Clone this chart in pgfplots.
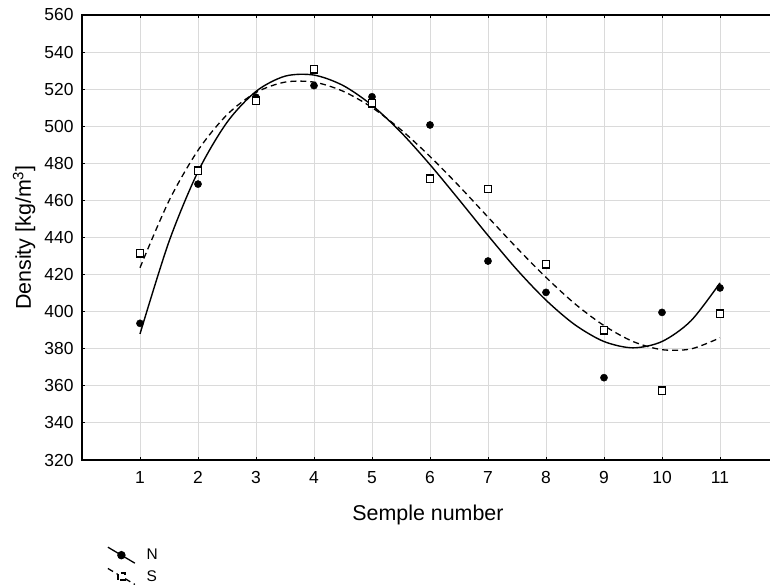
\documentclass[border=0pt]{standalone}
\usepackage{fontspec}
\setmainfont{Liberation Sans}
\usepackage{pgfplots}
\pgfplotsset{compat=1.18}
\definecolor{gridgray}{RGB}{218,218,218}
\begin{document}
\begin{tikzpicture}
\begin{axis}[
  at={(0,0)}, anchor=south west,
  scale only axis, width=696bp, height=445bp,
  xmin=0, xmax=12, ymin=320, ymax=560,
  xtick={1,...,11}, ytick={320,340,...,560},
  grid=major, major grid style={draw=gridgray, line width=0.9bp},
  axis line style={line width=1.3bp, black},
  tick style={black, line width=1bp}, major tick length=3bp,
  tick align=inside,
  /pgf/number format/assume math mode=true,
  tick label style={font=\fontsize{17.5}{17.5}\selectfont},
  xticklabel style={yshift=-8bp},
  yticklabel style={xshift=-5bp},
  xlabel={Semple number}, ylabel={Density [kg/m\textsuperscript{3}]},
  label style={font=\fontsize{21.5}{21.5}\selectfont},
  xlabel style={at={(axis description cs:0.497,-0.123)}, anchor=center},
  ylabel style={at={(axis description cs:-0.083,0.5)}, anchor=center},
  legend style={at={(axis description cs:0.036,-0.194)}, anchor=north west,
    draw=none, fill=none, inner sep=0pt, row sep=4bp,
    cells={anchor=west},
    /tikz/every odd column/.append style={column sep=9bp}},
]
% fitted curves
\addplot[black, line width=1.4bp, smooth,
  legend image code/.code={\draw[black, line width=1.3bp] (0bp,8bp) -- (27bp,-8bp); \fill[black] (13.5bp,0bp) circle (3.5bp);}]
  coordinates {
(1,388.0)(1.5,437.8)(2,475.5)(2.5,502.1)(3,518.8)(3.5,527.0)(4,527.6)(4.5,522.0)(5,511.3)(5.5,496.7)(6,479.3)
(6.5,460.4)(7,441.1)(7.5,422.6)(8,406.2)(8.5,392.9)(9,383.9)(9.5,380.5)(10,383.9)(10.5,395.1)(11,415.5)};
\addlegendentry{\fontsize{15.5}{15.5}\selectfont N}
\addplot[black, line width=1.3bp, dashed, dash pattern=on 6bp off 4bp, smooth,
  legend image code/.code={\draw[black, line width=1.3bp, dash pattern=on 6bp off 4bp] (0bp,8bp) -- (27bp,-8bp); \draw[black, fill=white, line width=1.2bp] (10bp,-3.5bp) rectangle (17bp,3.5bp);}]
  coordinates {
(1,423.7)(1.5,459.8)(2,487.0)(2.5,506.2)(3,518.2)(3.5,523.8)(4,523.8)(4.5,518.9)(5,510.1)(5.5,498.1)(6,483.7)
(6.5,467.8)(7,451.0)(7.5,434.3)(8,418.5)(8.5,404.2)(9,392.5)(9.5,383.9)(10,379.5)(10.5,379.9)(11,385.9)};
\addlegendentry{\fontsize{15.5}{15.5}\selectfont S}
% N data
\addplot[only marks, mark=*, mark size=3.6bp, black, forget plot] coordinates {
(1,393.7)(2,468.8)(3,515.6)(4,521.9)(5,515.9)(6,500.7)(7,427.3)(8,410.4)(9,364.4)(10,399.6)(11,412.8)};
% S data
\addplot[only marks, mark=square*, mark size=3.7bp, black, fill=white, line width=1.3bp, forget plot] coordinates {
(1,431.5)(2,476.0)(3,513.8)(4,530.7)(5,512.4)(6,471.7)(7,466.1)(8,425.5)(9,389.9)(10,357.4)(11,398.9)};
\end{axis}
\pgfresetboundingbox
\path[use as bounding box] (-82bp,-125bp) rectangle (688bp,460bp);
\end{tikzpicture}
\end{document}
